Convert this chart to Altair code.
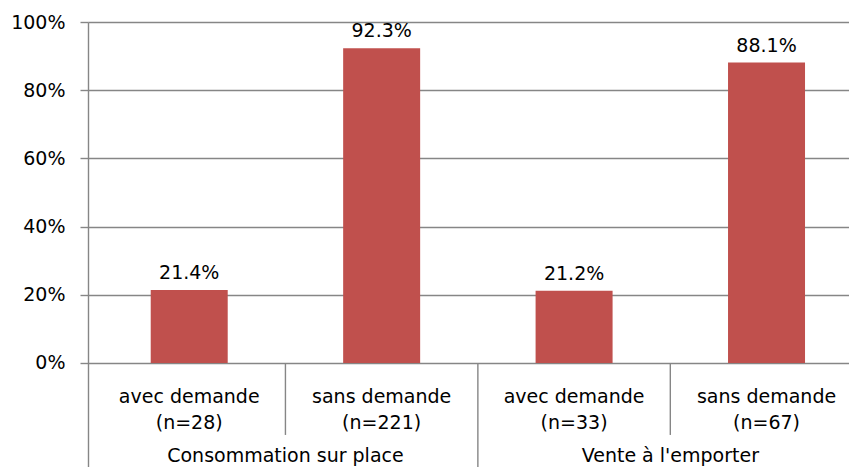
import altair as alt
import pandas as pd

categories = ["avec demande", "sans demande", "avec demande", "sans demande"]
sample_sizes = ["(n=28)", "(n=221)", "(n=33)", "(n=67)"]
values = [0.214, 0.923, 0.212, 0.881]
value_labels = ["21.4%", "92.3%", "21.2%", "88.1%"]
groups = ["Consommation  sur place", "Vente à l'emporter"]
y_ticks = [0, 0.2, 0.4, 0.6, 0.8, 1.0]

FONT = "DejaVu Sans"
FS = 19
BAR = "#C0504D"
GRID = "#868686"

bars_df = pd.DataFrame({
    "pos": [i + 0.5 for i in range(4)],
    "value": values,
    "label": value_labels,
    "cat": categories,
    "n": sample_sizes,
})
sep_df = pd.DataFrame({
    "pos": [1, 2, 3],
    "ystart": [0, 0, 0],
    "yend": [-0.211, -0.34, -0.211],
})
grp_df = pd.DataFrame({"pos": [1, 3], "grp": groups, "gy": [-0.272, -0.272]})
cat_df = bars_df.assign(l1=-0.1, l2=-0.176)

xs = alt.Scale(domain=[0, 3.9026], nice=False, zero=False)
ys = alt.Scale(domain=[-0.305, 1.0], nice=False, zero=False)

yaxis = alt.Axis(values=y_ticks, format=".0%", grid=True, gridColor=GRID,
                 gridWidth=1.4, domain=True, domainColor=GRID, domainWidth=1.4,
                 tickColor=GRID, tickSize=8, tickWidth=1.4, labelFont=FONT,
                 labelFontSize=FS, labelColor="#000000", labelPadding=15,
                 title=None)

bars = alt.Chart(bars_df).mark_bar(color=BAR, size=77).encode(
    x=alt.X("pos:Q", scale=xs, axis=None),
    y=alt.Y("value:Q", scale=ys, axis=yaxis),
)
bar_text = alt.Chart(bars_df).mark_text(font=FONT, fontSize=FS, baseline="alphabetic",
                                        dy=-11, color="#000000").encode(
    x=alt.X("pos:Q"), y=alt.Y("value:Q"), text="label:N"
)
seps = alt.Chart(sep_df).mark_rule(color=GRID, strokeWidth=1.4).encode(
    x=alt.X("pos:Q"), y=alt.Y("ystart:Q"), y2="yend:Q"
)
cat1 = alt.Chart(cat_df).mark_text(font=FONT, fontSize=FS, baseline="middle",
                                   color="#000000").encode(
    x=alt.X("pos:Q"), y=alt.Y("l1:Q"), text="cat:N"
)
cat2 = alt.Chart(cat_df).mark_text(font=FONT, fontSize=FS, baseline="middle",
                                   color="#000000").encode(
    x=alt.X("pos:Q"), y=alt.Y("l2:Q"), text="n:N"
)
grp = alt.Chart(grp_df).mark_text(font=FONT, fontSize=FS, baseline="middle",
                                  color="#000000").encode(
    x=alt.X("pos:Q"), y=alt.Y("gy:Q"), text="grp:N"
)

chart = alt.layer(bars, seps, bar_text, cat1, cat2, grp).properties(
    width=761, height=445,
    autosize=alt.AutoSizeParams(type="none"),
    padding={"left": 80, "top": 14, "right": 0, "bottom": 0},
).configure_view(stroke=None)

chart.save("out.html", embed_options={"renderer": "svg", "actions": False})
